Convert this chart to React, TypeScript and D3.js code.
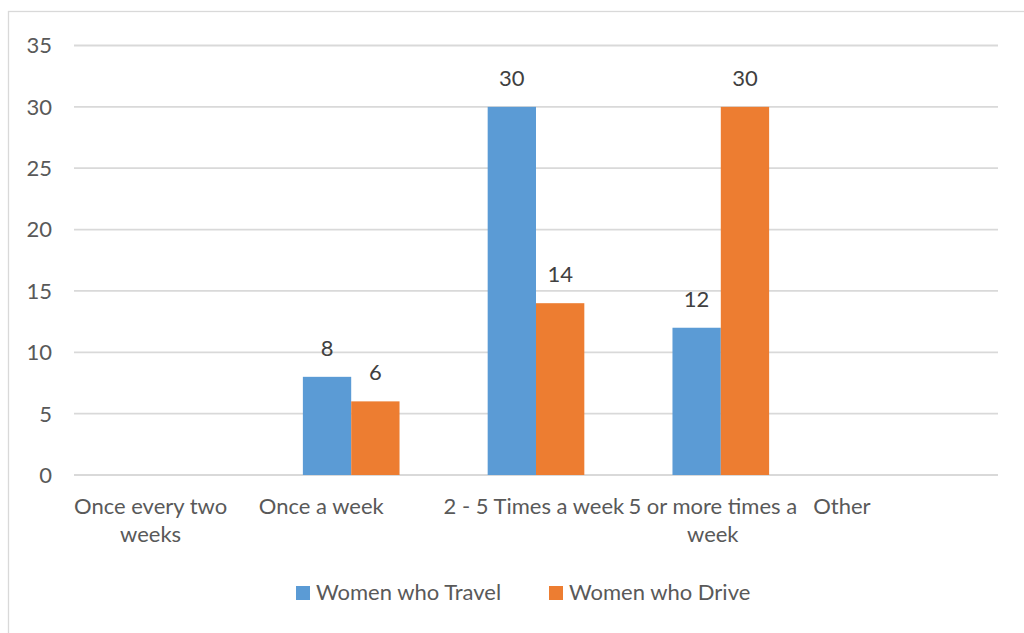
import React, { useEffect, useRef } from "react";
import * as d3 from "d3";

const categories: string[][] = [
  ["Once every two", "weeks"],
  ["Once a week"],
  ["2 - 5 Times a week"],
  ["5 or more times a", "week"],
  ["Other"],
];
const seriesNames = ["Women who Travel", "Women who Drive"];
const travelValues: (number | null)[] = [null, 8, 30, 12, null];
const driveValues: (number | null)[] = [null, 6, 14, 30, null];
const yTicks = [0, 5, 10, 15, 20, 25, 30, 35];
const colors = ["#5B9BD5", "#ED7D31"];

const W = 1024;
const H = 633;
const FONT = "Lato, 'Open Sans', sans-serif";
const FS = 22;

export default function App() {
  const ref = useRef<SVGSVGElement>(null);

  useEffect(() => {
    const svg = d3.select(ref.current);
    svg.selectAll("*").remove();

    // chart frame
    svg
      .append("rect")
      .attr("x", 8.5)
      .attr("y", 11.5)
      .attr("width", 1100)
      .attr("height", 700)
      .attr("fill", "#fff")
      .attr("stroke", "#d9d9d9")
      .attr("stroke-width", 1.3);

    const x0 = d3
      .scaleBand<number>()
      .domain(d3.range(categories.length))
      .range([74, 998]);
    const y = d3.scaleLinear().domain([0, 35]).range([475, 45.5]);

    const bw = x0.bandwidth();
    const barW = bw * 0.2615;
    const x1 = d3
      .scaleBand<number>()
      .domain([0, 1])
      .range([bw / 2 - barW, bw / 2 + barW])
      .padding(0);

    // gridlines
    svg
      .append("g")
      .selectAll("line")
      .data(yTicks)
      .join("line")
      .attr("x1", 74)
      .attr("x2", 998)
      .attr("y1", (d) => y(d))
      .attr("y2", (d) => y(d))
      .attr("stroke", "#d9d9d9")
      .attr("stroke-width", 1.8);

    // y tick labels
    svg
      .append("g")
      .selectAll("text")
      .data(yTicks)
      .join("text")
      .attr("x", 52)
      .attr("y", (d) => y(d))
      .attr("dy", "0.36em")
      .attr("text-anchor", "end")
      .attr("font-family", FONT)
      .attr("font-size", FS)
      .attr("fill", "#595959")
      .text((d) => d);

    // bars
    const series = [travelValues, driveValues];
    series.forEach((vals, si) => {
      const g = svg.append("g");
      const data = vals
        .map((v, i) => ({ v, i }))
        .filter((d) => d.v !== null) as { v: number; i: number }[];
      g.selectAll("rect")
        .data(data)
        .join("rect")
        .attr("x", (d) => (x0(d.i) as number) + (x1(si) as number))
        .attr("y", (d) => y(d.v))
        .attr("width", x1.bandwidth())
        .attr("height", (d) => y(0) - y(d.v))
        .attr("fill", colors[si]);
      g.selectAll("text")
        .data(data)
        .join("text")
        .attr(
          "x",
          (d) => (x0(d.i) as number) + (x1(si) as number) + x1.bandwidth() / 2
        )
        .attr("y", (d) => y(d.v) - 21)
        .attr("text-anchor", "middle")
        .attr("font-family", FONT)
        .attr("font-size", FS)
        .attr("fill", "#404040")
        .text((d) => d.v);
    });

    // category labels: block starts at band start, lines centred in block
    categories.forEach((lines, i) => {
      const g = svg.append("g");
      const texts = lines.map((line, li) =>
        g
          .append("text")
          .attr("y", 514 + li * 28)
          .attr("text-anchor", "middle")
          .attr("font-family", FONT)
          .attr("font-size", FS)
          .attr("fill", "#595959")
          .text(line)
      );
      const widths = texts.map(
        (t) => (t.node() as SVGTextElement).getComputedTextLength()
      );
      const blockW = Math.max(...widths);
      const cx = (x0(i) as number) + blockW / 2;
      texts.forEach((t) => t.attr("x", cx));
    });

    // legend
    const legendX = [296, 549];
    seriesNames.forEach((name, si) => {
      const g = svg.append("g");
      g.append("rect")
        .attr("x", legendX[si])
        .attr("y", 586)
        .attr("width", 14)
        .attr("height", 14)
        .attr("fill", colors[si]);
      g.append("text")
        .attr("x", legendX[si] + 20)
        .attr("y", 600)
        .attr("font-family", FONT)
        .attr("font-size", FS)
        .attr("fill", "#595959")
        .text(name);
    });
  }, []);

  return (
    <svg
      ref={ref}
      width={W}
      height={H}
      style={{ position: "absolute", left: 0, top: 0, background: "#fff" }}
    />
  );
}
